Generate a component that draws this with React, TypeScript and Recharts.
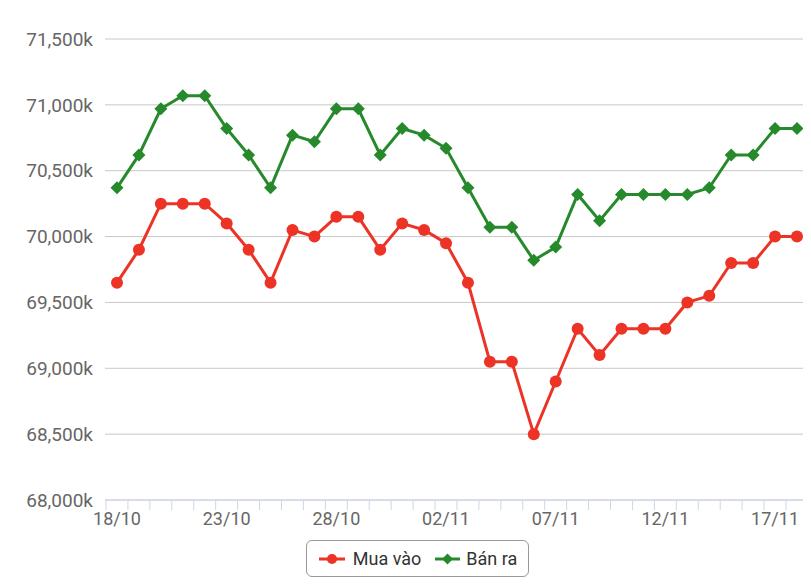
import { LineChart, Line, XAxis, YAxis, CartesianGrid, Legend } from "recharts";

const RED = "#ec3326";
const GREEN = "#268a2c";

// 18/10 -> 18/11
const dates = [
  "18/10", "19/10", "20/10", "21/10", "22/10", "23/10", "24/10", "25/10",
  "26/10", "27/10", "28/10", "29/10", "30/10", "31/10", "01/11", "02/11",
  "03/11", "04/11", "05/11", "06/11", "07/11", "08/11", "09/11", "10/11",
  "11/11", "12/11", "13/11", "14/11", "15/11", "16/11", "17/11", "18/11",
];

// Mua vào (buy)
const buy = [
  69650, 69900, 70250, 70250, 70250, 70100, 69900, 69650, 70050, 70000,
  70150, 70150, 69900, 70100, 70050, 69950, 69650, 69050, 69050, 68500,
  68900, 69300, 69100, 69300, 69300, 69300, 69500, 69550, 69800, 69800,
  70000, 70000,
];

// Bán ra (sell)
const sell = [
  70370, 70620, 70970, 71070, 71070, 70820, 70620, 70370, 70770, 70720,
  70970, 70970, 70620, 70820, 70770, 70670, 70370, 70070, 70070, 69820,
  69920, 70320, 70120, 70320, 70320, 70320, 70320, 70370, 70620, 70620,
  70820, 70820,
];

const yTicks = [68000, 68500, 69000, 69500, 70000, 70500, 71000, 71500];

const rows = dates.map((d, i) => ({ date: d, buy: buy[i], sell: sell[i] }));

const HALF = 11; // half a category step, ticks sit between points

// tick marks at every category boundary, label every 5th day
const DateTick = (props: any) => {
  const { x, y, payload, index } = props;
  const last = index === dates.length - 1;
  return (
    <g>
      <line x1={x - HALF} y1={y - 10} x2={x - HALF} y2={y} stroke="#ccd6eb" />
      {last && <line x1={x + HALF} y1={y - 10} x2={x + HALF} y2={y} stroke="#ccd6eb" />}
      {index % 5 === 0 && (
        <text x={x} y={y + 15} textAnchor="middle" fill="#666" fontSize={18}>
          {payload.value}
        </text>
      )}
    </g>
  );
};

const Diamond = (props: any) => {
  const { cx, cy, index } = props;
  const r = 6.5;
  return (
    <path
      key={`d-${index}`}
      d={`M${cx} ${cy - r}L${cx + r} ${cy}L${cx} ${cy + r}L${cx - r} ${cy}Z`}
      fill={GREEN}
    />
  );
};

const LegendBox = () => (
  <div style={{ display: "flex", justifyContent: "center", paddingLeft: 16 }}>
    <div
      style={{
        display: "inline-flex",
        alignItems: "center",
        height: 37,
        border: "1px solid #999",
        borderRadius: 6,
        padding: "0 11px 0 12px",
        fontSize: 18,
        color: "#333",
        boxSizing: "border-box",
      }}
    >
      <svg width={26} height={14} style={{ marginRight: 8 }}>
        <line x1={0} y1={7} x2={26} y2={7} stroke={RED} strokeWidth={3} />
        <circle cx={13} cy={7} r={5} fill={RED} />
      </svg>
      <span style={{ marginRight: 14 }}>Mua vào</span>
      <svg width={25} height={14} style={{ marginRight: 6 }}>
        <line x1={0} y1={7} x2={25} y2={7} stroke={GREEN} strokeWidth={3} />
        <path d="M12.5 1.5L18 7L12.5 12.5L7 7Z" fill={GREEN} />
      </svg>
      <span>Bán ra</span>
    </div>
  </div>
);

export default function App() {
  return (
    <div style={{ fontFamily: "Roboto, sans-serif" }}>
      <LineChart
        width={803}
        height={578}
        data={rows}
        margin={{ top: 31, right: 0, left: 0, bottom: 9 }}
        style={{ fontFamily: "Roboto, sans-serif" }}
      >
        <CartesianGrid vertical={false} stroke="#c8c8c8" />
        <XAxis
          dataKey="date"
          interval={0}
          height={40}
          padding={{ left: 12, right: 14 }}
          axisLine={{ stroke: "#ccd6eb" }}
          tickLine={false}
          tickSize={10}
          tickMargin={0}
          tick={<DateTick />}
        />
        <YAxis
          width={97}
          domain={[68000, 71500]}
          ticks={yTicks}
          interval={0}
          axisLine={false}
          tickLine={false}
          tickMargin={6}
          tick={{ fill: "#666", fontSize: 19 }}
          tickFormatter={(v: number) => v.toLocaleString("en-US") + "k"}
        />
        <Legend verticalAlign="bottom" content={<LegendBox />} />
        <Line
          dataKey="buy"
          name="Mua vào"
          type="linear"
          stroke={RED}
          strokeWidth={3}
          dot={{ r: 6, fill: RED, stroke: RED, strokeWidth: 0 }}
          activeDot={false}
          isAnimationActive={false}
        />
        <Line
          dataKey="sell"
          name="Bán ra"
          type="linear"
          stroke={GREEN}
          strokeWidth={3}
          dot={Diamond}
          activeDot={false}
          isAnimationActive={false}
        />
      </LineChart>
    </div>
  );
}
